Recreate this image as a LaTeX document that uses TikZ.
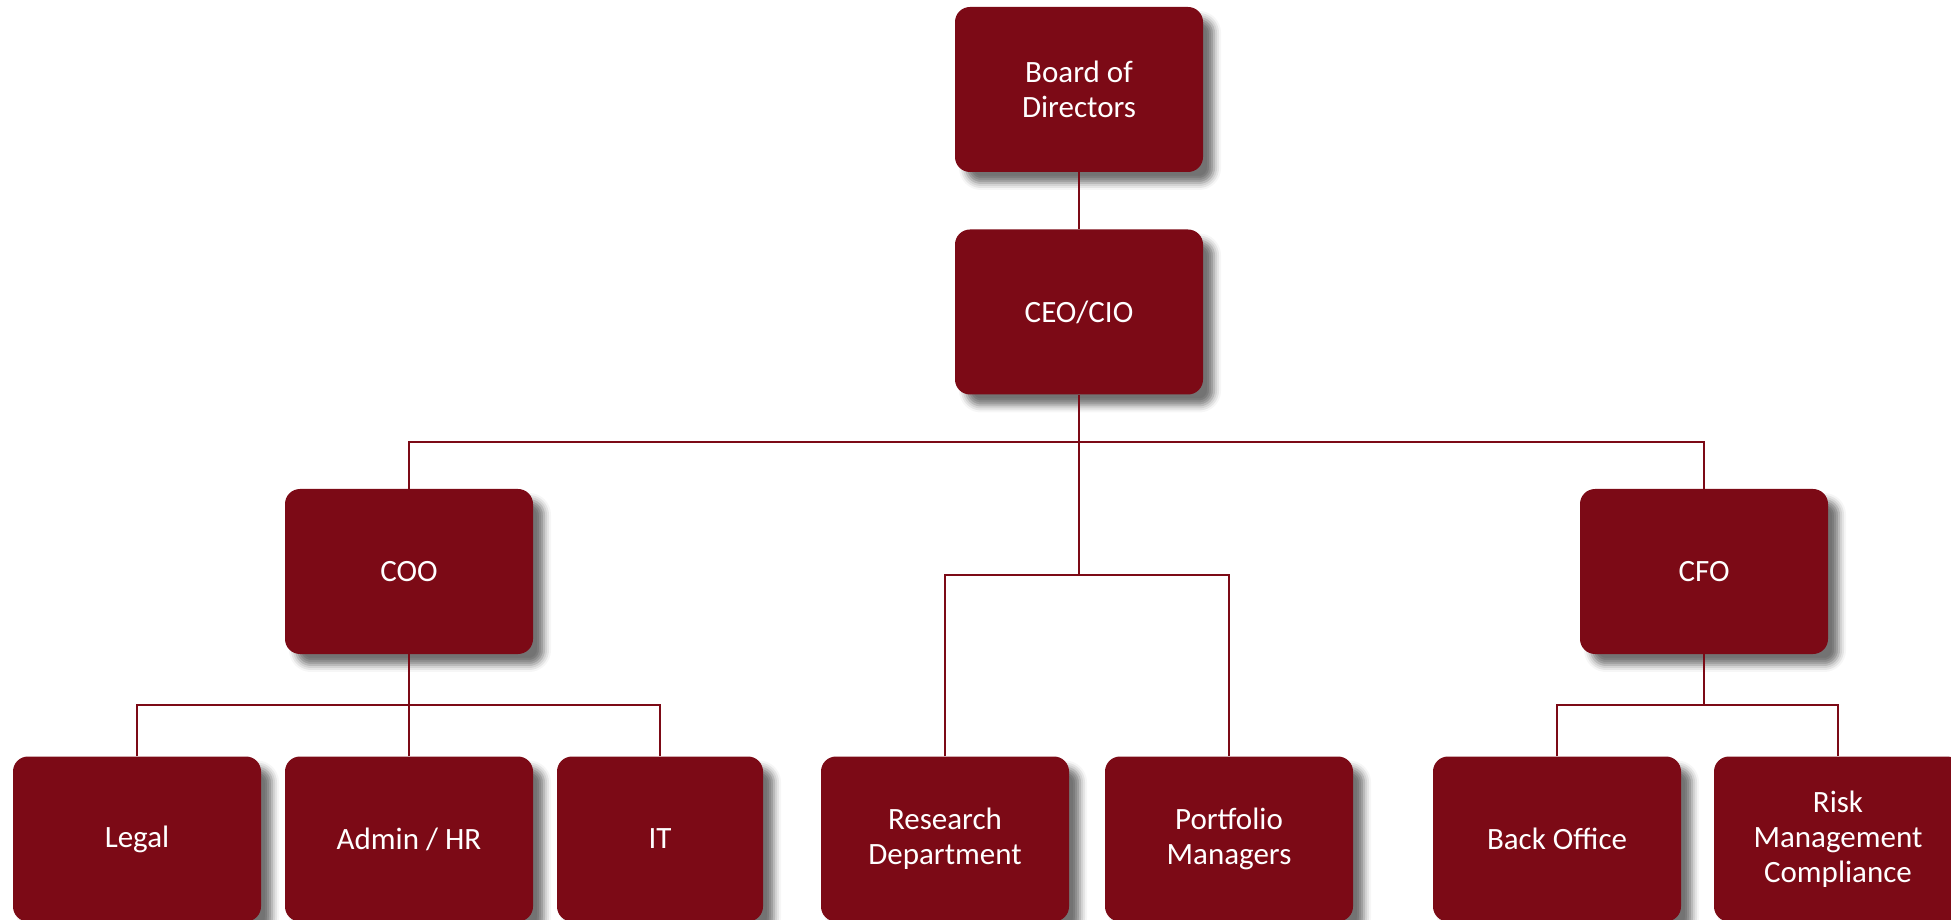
\documentclass[tikz,border=0pt]{standalone}
\usepackage{fontspec}
\setmainfont{Carlito}
\usetikzlibrary{shadows.blur}
\definecolor{boxred}{RGB}{124,10,22}

\tikzset{
  unit/.style={rectangle, rounded corners=15pt, fill=boxred, text=white,
    minimum width=248pt, minimum height=165pt, inner sep=0pt, align=center,
    font=\fontsize{31}{35}\selectfont,
    blur shadow={shadow xshift=11pt, shadow yshift=-11pt,
      shadow blur radius=7pt, shadow opacity=55}},
  link/.style={draw=boxred, line width=1.2pt}
}

\begin{document}
\begin{tikzpicture}[x=1pt,y=1pt]
  \useasboundingbox (0,0) rectangle (1951,919);

  % top of the tree
  \node[unit] (board) at (1079,829.5) {Board of\\Directors};
  \node[unit] (ceo)   at (1079,607)   {CEO/CIO};

  % second row
  \node[unit] (coo) at (409,347.5)  {COO};
  \node[unit] (cfo) at (1704,347.5) {CFO};

  % bottom row
  \node[unit] (legal)     at (137,80)  {Legal};
  \node[unit] (admin)     at (409,80)  {Admin / HR};
  \node[unit,minimum width=206pt] (it) at (660,80) {IT};
  \node[unit] (research)  at (945,80)  {Research\\Department};
  \node[unit] (portfolio) at (1229,80) {Portfolio\\Managers};
  \node[unit] (back)      at (1557,80) {Back Office};
  \node[unit] (risk)      at (1838,80) {Risk\\Management\\Compliance};

  \coordinate (ceo bus)   at (0,477);
  \coordinate (desk bus)  at (0,344);
  \coordinate (staff bus) at (0,214);

  \draw[link] (board) -- (ceo);
  \draw[link] (ceo.south) -- (ceo.south |- desk bus);
  \draw[link] (coo.north) |- (ceo.south |- ceo bus) -| (cfo.north);
  \draw[link] (research.north) |- (ceo.south |- desk bus) -| (portfolio.north);

  \draw[link] (admin) -- (coo);
  \draw[link] (legal.north) |- (coo.south |- staff bus) -| (it.north);

  \draw[link] (cfo.south) -- (cfo.south |- staff bus);
  \draw[link] (back.north) |- (cfo.south |- staff bus) -| (risk.north);
\end{tikzpicture}
\end{document}
